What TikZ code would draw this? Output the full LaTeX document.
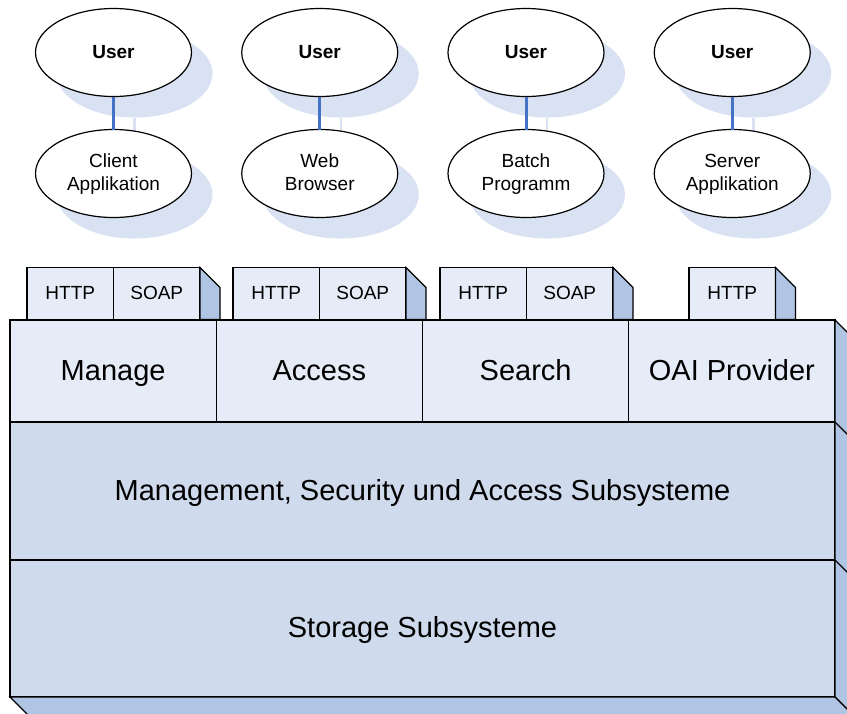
\documentclass[tikz,border=0pt]{standalone}
\usepackage{fontspec}
\setmainfont{Liberation Sans}
\usetikzlibrary{shapes.geometric,calc}

\definecolor{paneLight}{RGB}{230,236,247}
\definecolor{paneDark}{RGB}{207,218,236}
\definecolor{sideBlue}{RGB}{176,196,227}
\definecolor{shadowBlue}{RGB}{217,226,242}
\definecolor{lineBlue}{RGB}{68,114,196}

\tikzset{
  bubble/.style={ellipse, draw, line width=1.2pt, fill=white, minimum width=156pt,
                 minimum height=88pt, inner sep=0pt, outer sep=0pt, align=center},
  bubbleShadow/.style={ellipse, fill=shadowBlue, minimum width=156pt,
                       minimum height=88pt, inner sep=0pt, outer sep=0pt},
  tab/.style={rectangle, draw, line width=1.2pt, fill=paneLight, minimum width=86.5pt,
              minimum height=52pt, inner sep=0pt, outer sep=0pt,
              text height=14.5pt, text depth=1.8pt,
              font=\fontsize{19}{22}\selectfont},
  cell/.style={rectangle, draw, line width=1.2pt, minimum width=206.25pt, inner sep=0pt,
               outer sep=0pt, text height=22.5pt, text depth=4pt,
               font=\fontsize{29}{34}\selectfont},
  side/.style={draw, line width=1.2pt, fill=sideBlue, line join=miter}
}

\begin{document}
\begin{tikzpicture}[x=1pt, y=-1pt]
  \useasboundingbox (0,0) rectangle (847,713);
  \clip (0,0) rectangle (847,713);

  % shadows first
  \foreach \i in {1,...,4}
  {
    \pgfmathsetmacro{\cx}{113.5+206.25*(\i-1)}
    \node [bubbleShadow] (su\i) at (\cx+21, 73.5) {};
    \node [bubbleShadow] (sa\i) at (\cx+21, 194.5) {};
    \draw [line width=2.5pt, shadowBlue] (su\i.south) -- (sa\i.north);
  }

  % users and their clients
  \foreach \app [count=\i] in {Client\\Applikation, Web\\Browser, Batch\\Programm, Server\\Applikation}
  {
    \pgfmathsetmacro{\cx}{113.5+206.25*(\i-1)}
    \node [bubble, font=\bfseries\fontsize{19}{23}\selectfont] (u\i) at (\cx, 52.5) {User};
    \node [bubble, text depth=2.5pt, font=\fontsize{19}{23.5}\selectfont] (a\i) at (\cx, 173.5) {\app};
    \draw [line width=3pt, lineBlue] (u\i) -- (a\i);
  }

  % protocol tabs
  \foreach \x [count=\i] in {27, 233, 440}
  {
    \node [tab] (h\i) at (\x+43.25, 293.5) {HTTP};
    \node [tab] (s\i) at (\x+129.75, 293.5) {SOAP};
    \draw [side] (s\i.north east) -- ++(20,20) -- ($(s\i.south east)+(20,0)$) -- (s\i.south east) -- cycle;
  }
  \node [tab] (h4) at (732.25, 293.5) {HTTP};
  \draw [side] (h4.north east) -- ++(20,20) -- ($(h4.south east)+(20,0)$) -- (h4.south east) -- cycle;

  % service layer
  \foreach \name [count=\i] in {Manage, Access, Search, OAI Provider}
    \node [cell, fill=paneLight, minimum height=102pt] (m\i) at ({10+206.25*(\i-0.5)}, 371) {\name};

  % subsystems
  \node [cell, fill=paneDark, minimum width=825pt, minimum height=138pt] (mgmt) at (422.5, 491)
        {Management, Security und Access Subsysteme};
  \node [cell, fill=paneDark, minimum width=825pt, minimum height=137pt] (store) at (422.5, 628.5)
        {Storage Subsysteme};

  % depth of the block
  \draw [side] (m4.north east) -- ++(20,20) -- ($(store.south east)+(20,20)$) -- (store.south east) -- cycle;
  \draw [side] (store.south west) -- ++(20,20) -- ($(store.south east)+(20,20)$) -- (store.south east) -- cycle;
  \draw [line width=1.2pt] (m4.south east) -- ++(20,20);
  \draw [line width=1.2pt] (mgmt.south east) -- ++(20,20);

\end{tikzpicture}
\end{document}
